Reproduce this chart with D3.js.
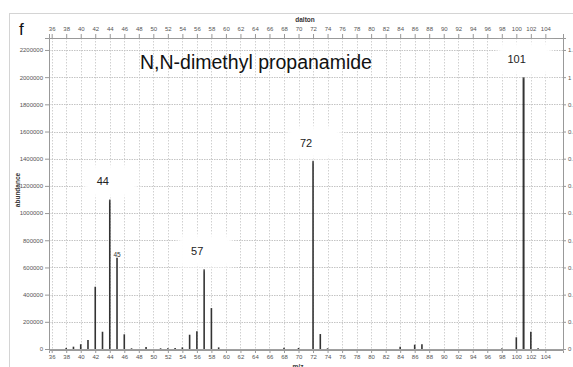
<!DOCTYPE html>
<html>
<head>
<meta charset="utf-8">
<script src="https://cdn.jsdelivr.net/npm/d3@7"></script>
<style>
  html, body { margin: 0; padding: 0; background: #fff; }
  svg { display: block; }
  .tick text { font-family: "Liberation Sans", Arial, sans-serif; font-size: 6px; fill: #555; }
</style>
</head>
<body>
<svg id="chart" width="573" height="367"></svg>
<script>
// Mass spectrum of N,N-dimethyl propanamide: m/z and abundance of each peak
const mzValues = [38, 39, 40, 41, 42, 43, 44, 45, 46, 47, 49, 51, 52, 53, 54, 55, 56, 57, 58, 59,
                  68, 70, 72, 73, 74, 84, 86, 87, 98, 100, 101, 102, 103];
const abundance = [8000, 17000, 35000, 66000, 458000, 127000, 1100000, 671000, 108000, 5000,
                   15000, 5000, 5000, 8000, 12000, 105000, 130000, 586000, 301000, 12000,
                   10000, 8000, 1385000, 110000, 5000, 17000, 32000, 35000, 4000, 86000,
                   2000000, 127000, 5000];

// Peaks called out with a large label, plus the small label on m/z 45
const majorPeaks = [44, 57, 72, 101];
const minorPeaks = [45];

// Axis ticks
const xTicks = d3.range(36, 105, 2);
const xTickLabels = xTicks.map(String);
const yTicks = d3.range(0, 2200001, 200000);
const relTicks = d3.range(0, 12).map(i => +(i / 10).toFixed(1));

const title = "N,N-dimethyl propanamide";
const panelLetter = "f";
const basePeak = 2000000;

const peakValue = m => abundance[mzValues.indexOf(m)];

const svg = d3.select("#chart");

const defs = svg.append("defs");
defs.append("filter").attr("id", "soft")
  .attr("x", "-30%").attr("y", "-30%").attr("width", "160%").attr("height", "160%")
  .append("feGaussianBlur").attr("stdDeviation", 2.5);

const plotLeft = 49, plotRight = 563, plotTop = 38, plotBottom = 349;

const x = d3.scaleLinear().domain([35.63, 106.43]).range([plotLeft, plotRight]);
const y = d3.scaleLinear().domain([0, 2288000]).range([plotBottom, plotTop]);
const yRel = d3.scaleLinear().domain([0, 2288000 / basePeak]).range([plotBottom, plotTop]);

// outer frame
svg.append("rect").attr("x", 9.5).attr("y", 13.5).attr("width", 620).attr("height", 400)
  .attr("fill", "#fff").attr("stroke", "#d4d4d4").attr("stroke-width", 1);

// grid
const grid = svg.append("g");
grid.selectAll("line.v").data(xTicks).join("line")
  .attr("x1", d => Math.round(x(d)) + 0.5).attr("x2", d => Math.round(x(d)) + 0.5)
  .attr("y1", plotTop).attr("y2", plotBottom)
  .attr("stroke", "#c4c4c4").attr("stroke-dasharray", "1.5,1.5").attr("stroke-width", 0.8);
grid.selectAll("line.h").data(yTicks.slice(1)).join("line")
  .attr("x1", plotLeft).attr("x2", plotRight)
  .attr("y1", d => Math.round(y(d)) + 0.5).attr("y2", d => Math.round(y(d)) + 0.5)
  .attr("stroke", "#c4c4c4").attr("stroke-dasharray", "1.5,1").attr("stroke-width", 1.1);

// axes
const fmtRel = d => d === 0 ? "0" : d3.format("~g")(d);

svg.append("g").attr("transform", `translate(0,${plotTop})`)
  .call(d3.axisTop(x).tickValues(xTicks).tickFormat((d, i) => xTickLabels[i]).tickSize(4).tickPadding(3))
  .call(g => g.select(".domain").attr("stroke", "#999"))
  .call(g => g.selectAll(".tick line").attr("stroke", "#999"));

svg.append("g").attr("transform", `translate(0,${plotBottom + 1})`)
  .call(d3.axisBottom(x).tickValues(xTicks).tickFormat((d, i) => xTickLabels[i]).tickSize(3).tickPadding(2))
  .call(g => g.select(".domain").attr("stroke", "#999"))
  .call(g => g.selectAll(".tick line").attr("stroke", "#999"));

svg.append("g").attr("transform", `translate(${plotLeft},0)`)
  .call(d3.axisLeft(y).tickValues(yTicks).tickFormat(d3.format("d")).tickSize(4).tickPadding(2))
  .call(g => g.select(".domain").attr("stroke", "#999"))
  .call(g => g.selectAll(".tick line").attr("stroke", "#999"));

svg.append("g").attr("transform", `translate(${plotRight},0)`)
  .call(d3.axisRight(yRel).tickValues(relTicks).tickFormat(fmtRel).tickSize(3).tickPadding(2))
  .call(g => g.select(".domain").attr("stroke", "#999"))
  .call(g => g.selectAll(".tick line").attr("stroke", "#999"));

// baseline
svg.append("line").attr("x1", plotLeft).attr("x2", plotRight)
  .attr("y1", y(0) + 0.5).attr("y2", y(0) + 0.5).attr("stroke", "#888").attr("stroke-width", 0.8);

// peaks
svg.append("g").selectAll("line").data(mzValues).join("line")
  .attr("x1", d => x(d)).attr("x2", d => x(d))
  .attr("y1", y(0)).attr("y2", (d, i) => y(abundance[i]))
  .attr("stroke", "#333").attr("stroke-width", (d, i) => abundance[i] >= basePeak ? 2 : 1.6);

// label backgrounds for the main peaks
svg.append("g").selectAll("rect").data(majorPeaks).join("rect")
  .attr("x", d => x(d) - 26).attr("y", d => y(peakValue(d)) - 35)
  .attr("width", 54).attr("height", 33)
  .attr("fill", "#fff").attr("filter", "url(#soft)");

svg.append("g").selectAll("text").data(majorPeaks).join("text")
  .attr("x", d => x(d) - 7).attr("y", d => y(peakValue(d)) - 14)
  .attr("text-anchor", "middle")
  .attr("font-family", "Liberation Sans, Arial, sans-serif").attr("font-size", 11)
  .attr("fill", "#222").text(d => d);

svg.append("g").selectAll("text").data(minorPeaks).join("text")
  .attr("x", d => x(d)).attr("y", d => y(peakValue(d)) - 1)
  .attr("text-anchor", "middle")
  .attr("font-family", "Liberation Sans, Arial, sans-serif").attr("font-size", 6.5)
  .attr("fill", "#333").text(d => d);

// titles
svg.append("text").attr("x", 256).attr("y", 69).attr("text-anchor", "middle")
  .attr("font-family", "Liberation Sans, Arial, sans-serif").attr("font-size", 19.5)
  .attr("fill", "#111").text(title);

svg.append("text").attr("x", 19).attr("y", 35)
  .attr("font-family", "Liberation Sans, Arial, sans-serif").attr("font-size", 17)
  .attr("fill", "#111").text(panelLetter);

svg.append("text").attr("x", 305).attr("y", 22).attr("text-anchor", "middle")
  .attr("font-family", "Liberation Sans, Arial, sans-serif").attr("font-size", 6.5)
  .attr("font-weight", "bold").attr("fill", "#333").text("dalton");

svg.append("text").attr("x", 298).attr("y", 369).attr("text-anchor", "middle")
  .attr("font-family", "Liberation Sans, Arial, sans-serif").attr("font-size", 6.5)
  .attr("font-weight", "bold").attr("fill", "#333").text("m/z");

svg.append("text").attr("transform", "translate(20,190) rotate(-90)").attr("text-anchor", "middle")
  .attr("font-family", "Liberation Sans, Arial, sans-serif").attr("font-size", 6.5)
  .attr("font-weight", "bold").attr("fill", "#333").text("abundance");
</script>
</body>
</html>
